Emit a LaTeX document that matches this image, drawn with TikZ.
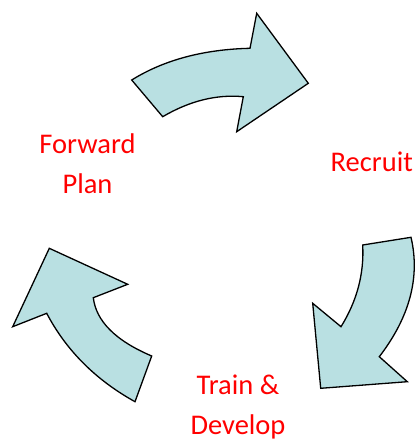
\documentclass[tikz,border=0pt]{standalone}
\usepackage{fontspec}
\setmainfont{Carlito}
\usepackage{xcolor}
\usepackage{tikz}
\definecolor{arrowfill}{RGB}{185,224,226}

\begin{document}
\begin{tikzpicture}[x=1pt, y=-1pt, >=latex,
    steplabel/.style={text=red, font=\fontsize{28.5}{40}\selectfont, align=center, anchor=base, inner sep=0pt},
    blockarrow/.style={draw=black, fill=arrowfill, line width=1.3pt, line join=miter}]
            \useasboundingbox (0,0) rectangle (418,441);

            % Curved arrows
            \draw[blockarrow] (131.7,80) .. controls (163.9,60) and (203.3,49.4) .. (250,48.3)
                -- (256.7,13.3) -- (308.3,83.3) -- (236.7,131.7) -- (243.3,96.7)
                .. controls (216.4,94.2) and (189.6,100.9) .. (162.7,116.7) -- cycle;
            \draw[blockarrow] (362.7,245) -- (411,237.3)
                .. controls (420.3,277.1) and (409.8,316.9) .. (379.3,356.7)
                -- (407.3,381.7) -- (320.7,388.3) -- (312.7,303.3) -- (341,326.7)
                .. controls (357,300.9) and (364.2,273.7) .. cycle;
            \draw[blockarrow] (135,401.7) .. controls (95.7,379.9) and (66.2,350.4) .. (46.7,313.3)
                -- (12.7,326.7) -- (49.3,248.3) -- (127.7,284.3) -- (93.3,297.7)
                .. controls (96.1,321.2) and (115.6,340.7) .. (151.7,356) -- cycle;

            % Labels
            \node[steplabel] (plan) at (87.5,193.3) {Forward\\Plan};
            \node[steplabel] (recruit) at (371.7,171.7) {Recruit};
            \node[steplabel] (train) at (238,434.5) {Train \&\\Develop};
\end{tikzpicture}
\end{document}
